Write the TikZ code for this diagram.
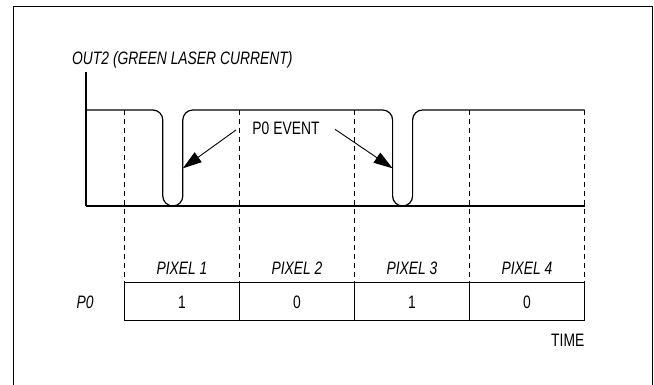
\documentclass[tikz,border=0pt]{standalone}
\usepackage{fontspec}
\setmainfont{Liberation Sans}[FakeStretch=0.77]
\usetikzlibrary{arrows.meta}
\tikzset{
  lbl/.style={inner sep=0pt, anchor=base},
  sig/.style={line width=1.2pt, line join=round},
  guide/.style={line width=0.8pt, dash pattern=on 5pt off 4pt},
  cell/.style={draw, line width=1.2pt, minimum width=115pt, minimum height=38.4pt, inner sep=0pt},
  frame/.style={line width=1.6pt},
  arr/.style={line width=0.9pt, -{Triangle[length=19pt,width=12pt]}}
}
\begin{document}
\begin{tikzpicture}[x=1pt,y=-1pt, every node/.style={font=\fontsize{18}{21.6}\selectfont}]
\useasboundingbox (0,0) rectangle (654,385);
% frame
\draw[frame] (13.3,386) -- (13.3,6.7) -- (652.3,6.7) -- (652.3,386);
% title
\node[lbl, anchor=base west] (title) at (72,65) {\itshape OUT2 (GREEN LASER CURRENT)};
% guides
\foreach \x in {124.5,239.5,354.5,469.5,584.5}
  \draw[guide] (\x,110) -- (\x,282.3);
% axis and waveform
\draw[sig] (86,72) -- (86,206);
\draw[sig] (86,206) -- (584.5,206);
\draw[sig, rounded corners=10pt] (86,110) -- (162.8,110) -- (162.8,206) -- (182.8,206) -- (182.8,110)
  -- (392.6,110) -- (392.6,206) -- (412.6,206) -- (412.6,110) -- (584.5,110);
% event label and arrows
\node[lbl] (ev) at (286,135) {P0 EVENT};
\coordinate (s1) at (236,130);
\coordinate (t1) at (182.8,168.3);
\coordinate (s2) at (335,129.3);
\coordinate (t2) at (392.6,168.3);
\draw[arr] (s1) -- (t1);
\draw[arr] (s2) -- (t2);
% cells
\node[cell] (c1) at (182,301.5) {};
\node[cell] (c2) at (297,301.5) {};
\node[cell] (c3) at (412,301.5) {};
\node[cell] (c4) at (527,301.5) {};
\node[lbl] (v1) at (182,308.4) {1};
\node[lbl] (v2) at (297,308.4) {0};
\node[lbl] (v3) at (412,308.4) {1};
\node[lbl] (v4) at (527,308.4) {0};
\node[lbl] (p1) at (182,275) {\itshape PIXEL 1};
\node[lbl] (p2) at (297,275) {\itshape PIXEL 2};
\node[lbl] (p3) at (412,275) {\itshape PIXEL 3};
\node[lbl] (p4) at (527,275) {\itshape PIXEL 4};
\node[lbl] (po) at (85,308.4) {\itshape P0};
\node[lbl, anchor=base east] (time) at (584.5,346.7) {TIME};
\end{tikzpicture}
\end{document}
